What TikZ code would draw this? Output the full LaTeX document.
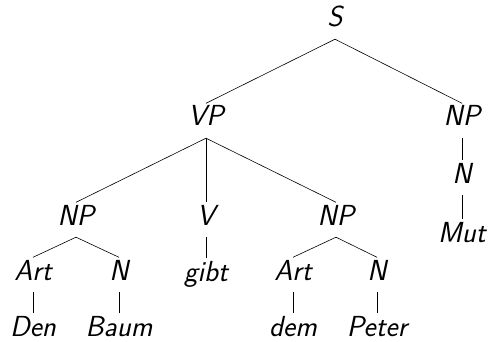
\documentclass[tikz,border=0pt]{standalone}
\usepackage{fontspec}
\begin{document}
\begin{tikzpicture}[x=1pt,y=-1pt,
  lab/.style={anchor=base,font=\fontsize{29}{33}\selectfont\sffamily\itshape,
    text height=19pt,text depth=8.5pt,inner xsep=1pt,inner ysep=3.5pt},
  edge/.style={draw=black,line width=0.6pt}]
\useasboundingbox (0,0) rectangle (490,342);
\node[lab] (S) at (335,27) {S};
\node[lab] (VP) at (206,126) {VP};
\node[lab] (NPr) at (462,126) {NP};
\node[lab] (Nr) at (462,183) {N};
\node[lab] (Mut) at (462,242) {Mut};
\node[lab] (NPl) at (76,225) {NP};
\node[lab] (V) at (206,225) {V};
\node[lab] (NPm) at (336,225) {NP};
\node[lab] (Artl) at (33,280) {Art};
\node[lab] (Nl) at (119,280) {N};
\node[lab] (gibt) at (206,281) {gibt};
\node[lab] (Artm) at (293,280) {Art};
\node[lab] (Nm) at (377,280) {N};
\node[lab] (Den) at (33,336) {Den};
\node[lab] (Baum) at (119,336) {Baum};
\node[lab] (dem) at (293,336) {dem};
\node[lab] (Peter) at (377,336) {Peter};
\draw[edge] (S.south) -- (VP.north);
\draw[edge] (S.south) -- (NPr.north);
\draw[edge] (NPr.south) -- (Nr.north);
\draw[edge] (Nr.south) -- (Mut.north);
\draw[edge] (VP.south) -- (NPl.north);
\draw[edge] (VP.south) -- (V.north);
\draw[edge] (VP.south) -- (NPm.north);
\draw[edge] (NPl.south) -- (Artl.north);
\draw[edge] (NPl.south) -- (Nl.north);
\draw[edge] (V.south) -- (gibt.north);
\draw[edge] (NPm.south) -- (Artm.north);
\draw[edge] (NPm.south) -- (Nm.north);
\draw[edge] (Artl.south) -- (Den.north);
\draw[edge] (Nl.south) -- (Baum.north);
\draw[edge] (Artm.south) -- (dem.north);
\draw[edge] (Nm.south) -- (Peter.north);
\end{tikzpicture}
\end{document}
